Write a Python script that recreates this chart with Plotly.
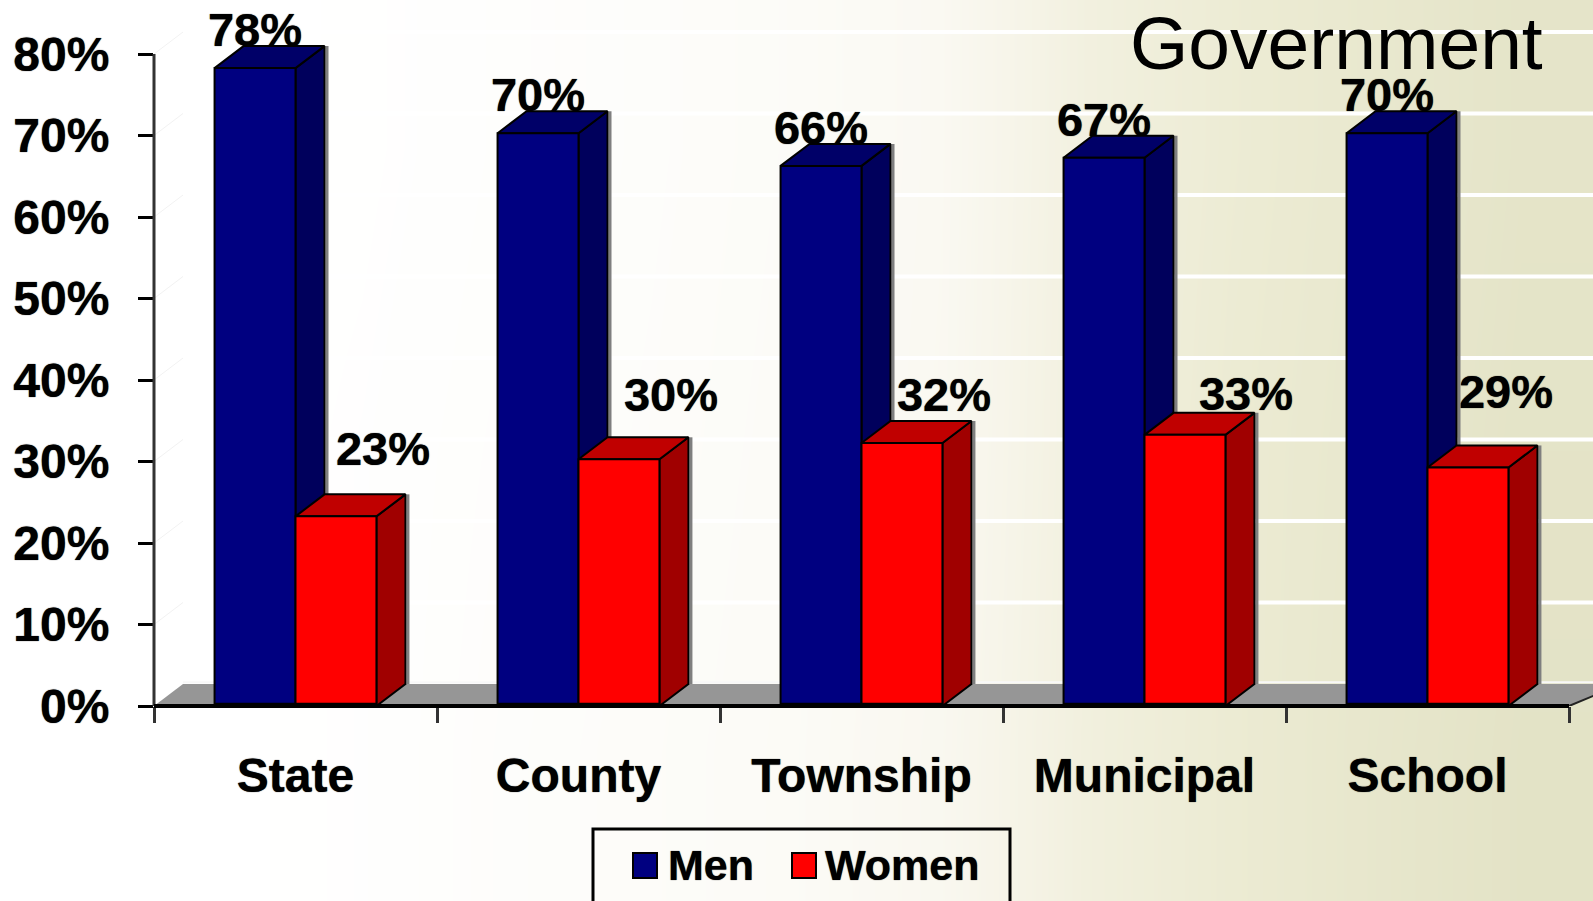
import plotly.graph_objects as go

# values
categories = ['State', 'County', 'Township', 'Municipal', 'School']
men = [78, 70, 66, 67, 70]
women = [23, 30, 32, 33, 29]
y_ticks = [0, 10, 20, 30, 40, 50, 60, 70, 80]

# women labels were dragged by hand in the original, so each has its own shift (in pixels)
women_label_dx = [47, 52, 42, 61, 38]
women_label_dy = [65, 62, 46, 39, 73]

# rough background tone, 0 = white, 1 = darkest beige, rows go bottom to top
bg_tone = [
    [0.00, 0.00, 0.02, 0.06, 0.09, 0.13, 0.22, 0.46, 0.60, 0.72, 0.82],
    [0.00, 0.00, 0.02, 0.05, 0.08, 0.12, 0.20, 0.45, 0.60, 0.70, 0.80],
    [0.00, 0.00, 0.01, 0.04, 0.07, 0.11, 0.19, 0.44, 0.58, 0.68, 0.78],
]

W, H = 1593, 901
AXIS_LEFT, AXIS_RIGHT, AXIS_BOTTOM, AXIS_TOP = 154, 1569, 706, 54
X_UNIT = (AXIS_RIGHT - AXIS_LEFT) / len(categories)  # pixels per category
Y_UNIT = (AXIS_BOTTOM - AXIS_TOP) / 80  # pixels per percent
x_range = [-0.5, len(categories) - 0.5 + (W - AXIS_RIGHT) / X_UNIT]
y_range = [0, AXIS_BOTTOM / Y_UNIT]

BAR_W = 0.286
DX = 29 / X_UNIT  # depth of the fake 3d
DY = 22 / Y_UNIT
LIFT = 2.2 / Y_UNIT  # the boxes sit slightly above their tick in the original

FONT = 'Liberation Sans'
HEAVY = '0 0 1px rgba(0,0,0,0.9)'  # the original text is blurry and looks heavier
LABEL_FONT = dict(family=FONT, size=47, color='black', weight='bold', shadow=HEAVY)


def polygon(xs, ys, fill, line_width=2, xaxis='x2', yaxis='y2'):
    return go.Scatter(
        x=xs + xs[:1], y=ys + ys[:1], mode='lines', fill='toself', fillcolor=fill,
        line=dict(color='black', width=line_width), hoverinfo='skip',
        showlegend=False, xaxis=xaxis, yaxis=yaxis,
    )


def line(xs, ys, color, width, xaxis='x2', yaxis='y2'):
    return go.Scatter(
        x=xs, y=ys, mode='lines', line=dict(color=color, width=width),
        hoverinfo='skip', showlegend=False, xaxis=xaxis, yaxis=yaxis, cliponaxis=False,
    )


def box_faces(left, right, value, side_color, top_color):
    value = value + LIFT
    shadow = line([right + DX + 2.5 / X_UNIT] * 2, [DY, value + DY], '#7f7f7f', 3)
    side = polygon([right, right + DX, right + DX, right],
                   [0, DY, value + DY, value], side_color)
    top = polygon([left, left + DX, right + DX, right],
                  [value, value + DY, value + DY, value], top_color)
    return [shadow, side, top]


fig = go.Figure()

# page background on the first subplot so everything else sits on top of it
fig.add_trace(go.Heatmap(
    z=bg_tone, zsmooth='best', showscale=False, hoverinfo='skip', zmin=0, zmax=1,
    colorscale=[[0, '#ffffff'], [0.3, '#f7f5ea'], [0.6, '#ecebd3'], [1, '#dcdcbc']],
))

# back wall and floor
for t in y_ticks[1:]:
    fig.add_trace(line([-0.5, -0.5 + DX], [t, t + DY], '#f2f2f2', 1))
    fig.add_trace(line([-0.5 + DX, x_range[1]], [t + DY, t + DY], '#ffffff', 4))
fig.add_trace(line([-0.5 + DX, x_range[1]], [DY + 0.2, DY + 0.2], '#f8f8f8', 2))
fig.add_trace(polygon([-0.5, -0.5 + DX, x_range[1] + DX, len(categories) - 0.5],
                      [0, DY, DY, 0], '#969696', line_width=0))
fig.add_trace(line([len(categories) - 0.5, x_range[1] + DX], [0, DY], '#222222', 2))

# value labels go behind the boxes, the tops cut into them
fig.add_trace(go.Scatter(
    x=[i - BAR_W / 2 for i in range(len(men))],
    y=[v + 36 / Y_UNIT for v in men],
    text=[f'{v}%' for v in men], mode='text', textfont=LABEL_FONT,
    hoverinfo='skip', showlegend=False, xaxis='x2', yaxis='y2', cliponaxis=False,
))
fig.add_trace(go.Scatter(
    x=[i + BAR_W / 2 + women_label_dx[i] / X_UNIT for i in range(len(women))],
    y=[v + women_label_dy[i] / Y_UNIT for i, v in enumerate(women)],
    text=[f'{v}%' for v in women], mode='text', textfont=LABEL_FONT,
    hoverinfo='skip', showlegend=False, xaxis='x2', yaxis='y2', cliponaxis=False,
))

for i in range(len(categories)):
    for t in box_faces(i - BAR_W, i, men[i], '#00005c', '#000068'):
        fig.add_trace(t)
    for t in box_faces(i, i + BAR_W, women[i], '#a00000', '#c00000'):
        fig.add_trace(t)

# front faces are the real bars
fig.add_trace(go.Bar(x=list(range(len(men))), y=men, base=LIFT, name='Men', xaxis='x3', yaxis='y3',
                     marker=dict(color='#000080', line=dict(color='black', width=2)),
                     hoverinfo='skip'))
fig.add_trace(go.Bar(x=list(range(len(women))), y=women, base=LIFT, name='Women', xaxis='x3', yaxis='y3',
                     marker=dict(color='#ff0000', line=dict(color='black', width=2)),
                     hoverinfo='skip'))


def px_x(p):
    return p / W


def px_y(p):
    return 1 - p / H


hidden = dict(visible=False, fixedrange=True)
y_domain = [px_y(AXIS_BOTTOM), 1]
x_domain = [px_x(AXIS_LEFT), 1]

shapes = [
    # axis lines stop at 80% and the last category, the ranges run further
    dict(type='line', xref='paper', yref='paper', x0=px_x(AXIS_LEFT), x1=px_x(AXIS_LEFT),
         y0=px_y(AXIS_BOTTOM), y1=px_y(AXIS_TOP), line=dict(color='#333333', width=3)),
    dict(type='line', xref='paper', yref='paper', x0=px_x(AXIS_LEFT), x1=px_x(AXIS_RIGHT),
         y0=px_y(AXIS_BOTTOM), y1=px_y(AXIS_BOTTOM), line=dict(color='black', width=4)),
    # legend box runs off the bottom of the page
    dict(type='rect', xref='paper', yref='paper', x0=px_x(593), x1=px_x(1010),
         y0=px_y(906), y1=px_y(829), line=dict(color='black', width=3)),
    dict(type='rect', xref='paper', yref='paper', x0=px_x(633), x1=px_x(657),
         y0=px_y(878), y1=px_y(853), fillcolor='#000080', line=dict(color='black', width=2)),
    dict(type='rect', xref='paper', yref='paper', x0=px_x(792), x1=px_x(816),
         y0=px_y(878), y1=px_y(853), fillcolor='#ff0000', line=dict(color='black', width=2)),
]

annotations = [
    dict(text='Government', xref='paper', yref='paper', x=px_x(1128), y=px_y(43),
         xanchor='left', yanchor='middle', showarrow=False,
         font=dict(family=FONT, size=75, color='black')),
    dict(text='Men', xref='paper', yref='paper', x=px_x(666), y=px_y(865),
         xanchor='left', yanchor='middle', showarrow=False,
         font=dict(family=FONT, size=43, color='black', weight='bold', shadow=HEAVY)),
    dict(text='Women', xref='paper', yref='paper', x=px_x(823), y=px_y(865),
         xanchor='left', yanchor='middle', showarrow=False,
         font=dict(family=FONT, size=43, color='black', weight='bold', shadow=HEAVY)),
]

fig.update_layout(
    width=W, height=H,
    margin=dict(l=0, r=0, t=0, b=0, autoexpand=False),
    paper_bgcolor='white',
    plot_bgcolor='rgba(0,0,0,0)',
    showlegend=False,
    barmode='group',
    bargap=1 - 2 * BAR_W,
    bargroupgap=0,
    shapes=shapes,
    annotations=annotations,
    xaxis=dict(domain=[0, 1], **hidden),
    yaxis=dict(domain=[0, 1], **hidden),
    xaxis2=dict(domain=x_domain, range=x_range, anchor='y2', **hidden),
    yaxis2=dict(domain=y_domain, range=y_range, anchor='x2', **hidden),
    xaxis3=dict(
        domain=x_domain, range=x_range, anchor='y3', fixedrange=True,
        tickmode='array', tickvals=list(range(len(categories))), ticktext=categories,
        ticks='', showgrid=False, zeroline=False, showline=False,
        ticklabelstandoff=37, tickfont=dict(LABEL_FONT, size=48),
        minor=dict(tickmode='array', tickvals=[i - 0.5 for i in range(len(categories) + 1)],
                   ticks='outside', ticklen=16, tickwidth=3, tickcolor='#333333', showgrid=False),
    ),
    yaxis3=dict(
        domain=y_domain, range=y_range, anchor='x3', fixedrange=True,
        tickmode='array', tickvals=y_ticks, ticktext=[f'{t}%' for t in y_ticks],
        ticks='outside', ticklen=15, tickwidth=3, tickcolor='black',
        showgrid=False, zeroline=False, showline=False,
        ticklabelstandoff=19, tickfont=dict(LABEL_FONT, size=48),
    ),
)

fig.write_html("out.html", config=dict(displayModeBar=False),
               post_script="document.body.style.margin='0';document.body.style.overflow='hidden';")
